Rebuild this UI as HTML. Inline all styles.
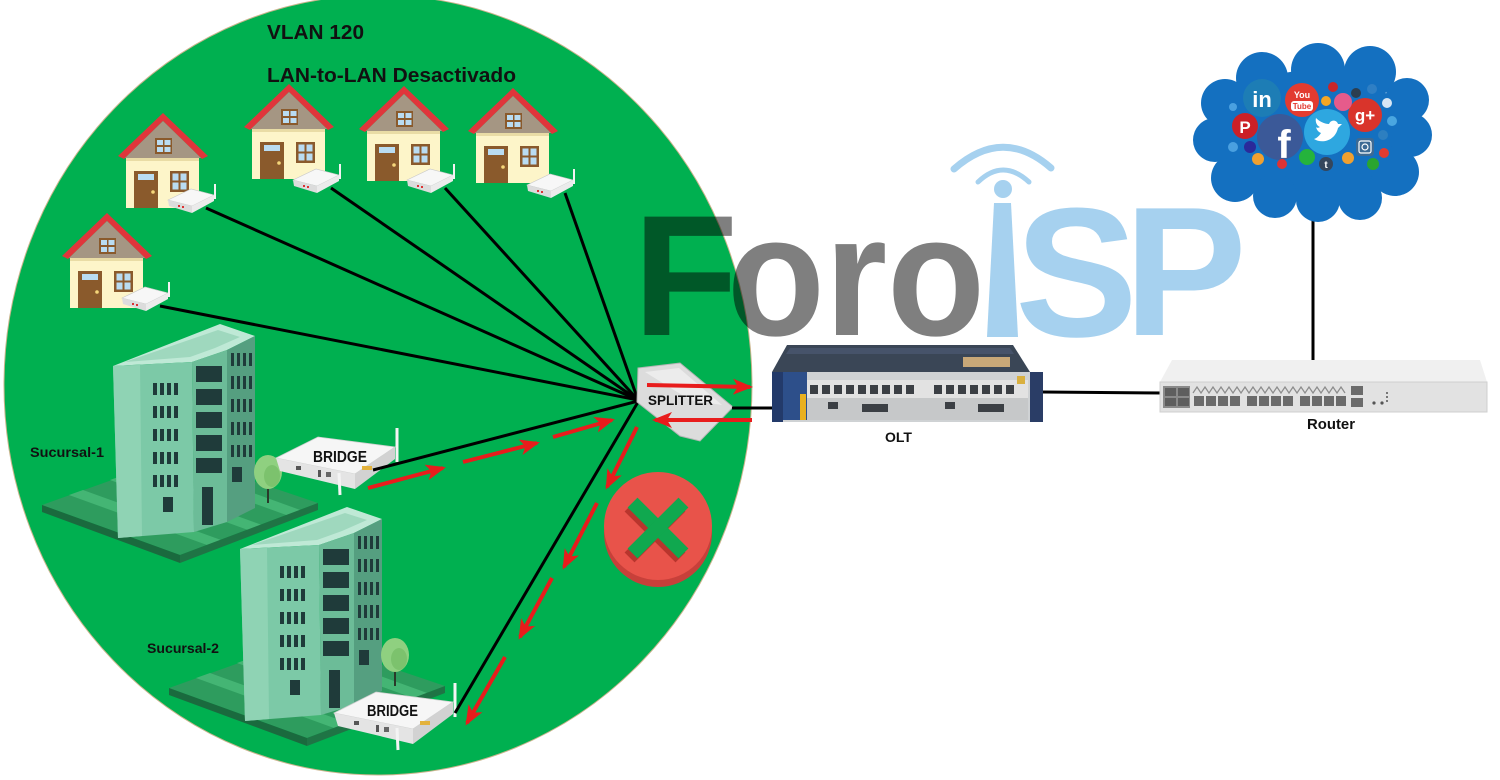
<!DOCTYPE html>
<html><head><meta charset="utf-8"><style>
html,body{margin:0;padding:0;background:#fff;}
svg{display:block;}
text{font-family:"Liberation Sans",Arial,sans-serif;font-weight:bold;}
</style></head><body>
<svg width="1500" height="780" viewBox="0 0 1500 780" xmlns="http://www.w3.org/2000/svg">
<defs>
<marker id="ah" markerUnits="userSpaceOnUse" markerWidth="20" markerHeight="16" viewBox="0 0 20 16" refX="17" refY="8" orient="auto">
<path d="M0,0 L20,8 L0,16 L5,8 z" fill="#e81c1c"/>
</marker>
<pattern id="wl" x="153" y="383" width="7" height="23" patternUnits="userSpaceOnUse"><rect x="0" y="0" width="4" height="12" fill="#1f3b3a"/></pattern>
<pattern id="wr" x="231" y="353" width="6" height="23" patternUnits="userSpaceOnUse"><rect x="0" y="0" width="3" height="13" fill="#1f3b3a"/></pattern>

<g id="house">
<polygon points="0,-1 45,42 39,45 0,7 -39,45 -45,42" fill="#e0353b"/>
<polygon points="0,7 -38,44 38,44" fill="#a59683"/>
<rect x="-37" y="44" width="73" height="50" fill="#fdf5c9"/>
<rect x="-37" y="44" width="73" height="3" fill="#e9dca5"/>
<rect x="-29" y="57" width="24" height="37" fill="#8a5a2c"/>
<rect x="-25" y="60" width="16" height="6" fill="#b9dcf2"/>
<circle cx="-10" cy="78" r="1.8" fill="#f5d67a"/>
<rect x="7" y="57" width="19" height="21" fill="#8a5a2c"/>
<rect x="9.5" y="59.5" width="6" height="7" fill="#b9dcf2"/>
<rect x="17.5" y="59.5" width="6" height="7" fill="#b9dcf2"/>
<rect x="9.5" y="68.5" width="6" height="7" fill="#b9dcf2"/>
<rect x="17.5" y="68.5" width="6" height="7" fill="#b9dcf2"/>
<rect x="-8" y="24" width="17" height="16" fill="#8a5a2c"/>
<rect x="-6" y="26" width="6" height="5" fill="#b9dcf2"/>
<rect x="1.5" y="26" width="6" height="5" fill="#b9dcf2"/>
<rect x="-6" y="33" width="6" height="5" fill="#b9dcf2"/>
<rect x="1.5" y="33" width="6" height="5" fill="#b9dcf2"/>
</g>

<g id="ont">
<polygon points="-38,-8 -15,-19 8,-13 -14,-2" fill="#f7f7f7" stroke="#c8c8c8" stroke-width="0.6"/>
<polygon points="-38,-8 -14,-2 -14,5 -37,-2" fill="#dcdcdc"/>
<polygon points="-14,-2 8,-13 8,-7 -14,5" fill="#ebebeb"/>
<line x1="9" y1="-24" x2="9" y2="-9" stroke="#f2f2f2" stroke-width="2"/>
<rect x="-28" y="-3" width="2" height="2" fill="#d33"/>
<rect x="-24" y="-2" width="2" height="2" fill="#d33"/>
</g>

<g id="bld">
<polygon points="42,505 179,456 318,503 180,555" fill="#2e9c5e"/>
<polygon points="69,495 207,545 221,540 83,490" fill="#44b574"/>
<polygon points="110,480 248,530 262,525 124,475" fill="#44b574"/>
<polygon points="151,466 289,516 303,511 165,461" fill="#44b574"/>
<polygon points="42,505 180,555 180,563 42,512" fill="#1a6a3e"/>
<polygon points="180,555 318,503 318,510 180,563" fill="#1f7445"/>
<polygon points="113,366 220,324 255,336 227,350 192,362" fill="#bfe9d6"/>
<polygon points="125,362 218,330 240,337 215,348 190,357" fill="#9fd8be"/>
<polygon points="113,366 192,362 194,532 118,538" fill="#7cc9a7"/>
<polygon points="113,366 140,365 142,536 118,538" fill="#8fd3b4"/>
<polygon points="192,362 227,350 227,522 194,532" fill="#6cbc98"/>
<polygon points="227,350 255,336 255,508 227,522" fill="#559f80"/>
<rect x="153" y="383" width="25" height="104" fill="url(#wl)"/>
<rect x="231" y="353" width="23" height="104" fill="url(#wr)"/>
<rect x="196" y="366" width="26" height="16" fill="#1f3b3a"/>
<rect x="196" y="389" width="26" height="16" fill="#1f3b3a"/>
<rect x="196" y="412" width="26" height="16" fill="#1f3b3a"/>
<rect x="196" y="435" width="26" height="16" fill="#1f3b3a"/>
<rect x="196" y="458" width="26" height="15" fill="#1f3b3a"/>
<rect x="163" y="497" width="10" height="15" fill="#1f3b3a"/>
<rect x="202" y="487" width="11" height="38" fill="#1f3b3a"/>
<rect x="232" y="467" width="10" height="15" fill="#1f3b3a"/>
<line x1="268" y1="480" x2="268" y2="503" stroke="#2a3a2a" stroke-width="2"/>
<ellipse cx="268" cy="472" rx="14" ry="17" fill="#8fd080"/>
<ellipse cx="272" cy="476" rx="8" ry="11" fill="#7cc26d"/>
</g>

<g id="brg">
<polygon points="276,458 318,437 395,447 355,474" fill="#f6f6f6" stroke="#d0d0d0" stroke-width="0.8"/>
<polygon points="276,458 355,474 355,489 280,471" fill="#e4e4e4"/>
<polygon points="355,474 395,447 395,459 355,489" fill="#d2d2d2"/>
<rect x="296" y="466" width="5" height="4" fill="#555"/>
<rect x="318" y="470" width="3" height="7" fill="#555"/>
<rect x="326" y="472" width="5" height="5" fill="#666"/>
<rect x="362" y="466" width="10" height="4" fill="#e3b23c"/>
<line x1="397" y1="428" x2="397" y2="462" stroke="#f4f4f4" stroke-width="3"/>
<line x1="339" y1="473" x2="340" y2="495" stroke="#f4f4f4" stroke-width="3"/>
</g>
</defs>

<rect width="1500" height="780" fill="#fff"/>

<!-- green ellipse -->
<ellipse cx="378" cy="385" rx="374" ry="390" fill="#00b050" stroke="#c9b48c" stroke-width="1"/>

<!-- Logo -->
<g style="mix-blend-mode:multiply">
<text x="633" y="335" font-size="172" fill="#7f7f7f">F</text>
<text x="727" y="335" font-size="172" fill="#7f7f7f" textLength="258" lengthAdjust="spacingAndGlyphs">oro</text>
</g>
<polygon points="987,337 1018,337 1011,203 994,203" fill="#a6d1ef"/>
<circle cx="1003" cy="189" r="9" fill="#a6d1ef"/>
<path d="M978,182 Q1003,158 1029,182" fill="none" stroke="#a6d1ef" stroke-width="5" stroke-linecap="round"/>
<path d="M954,169 Q1003,126 1051,168" fill="none" stroke="#a6d1ef" stroke-width="7" stroke-linecap="round"/>
<text x="1015" y="336" font-size="184" fill="#a6d1ef">S</text>
<text x="1124" y="335" font-size="184" fill="#a6d1ef">P</text>

<!-- Texts top -->
<text x="267" y="39" font-size="20" fill="#111" textLength="97" lengthAdjust="spacingAndGlyphs">VLAN 120</text>
<text x="267" y="82" font-size="20" fill="#111" textLength="249" lengthAdjust="spacingAndGlyphs">LAN-to-LAN Desactivado</text>

<!-- houses -->
<use href="#house" transform="translate(107,214)"/>
<use href="#house" transform="translate(163,114)"/>
<use href="#house" transform="translate(289,85)"/>
<use href="#house" transform="translate(404,87)"/>
<use href="#house" transform="translate(513,89)"/>

<!-- lines from houses -->
<g stroke="#000" stroke-width="3" fill="none">
<line x1="160" y1="306" x2="638" y2="400"/>
<line x1="206" y1="208" x2="638" y2="400"/>
<line x1="331" y1="188" x2="638" y2="400"/>
<line x1="445" y1="188" x2="638" y2="400"/>
<line x1="565" y1="193" x2="638" y2="400"/>
</g>
<use href="#ont" transform="translate(160,306)"/>
<use href="#ont" transform="translate(206,208)"/>
<use href="#ont" transform="translate(331,188)"/>
<use href="#ont" transform="translate(445,188)"/>
<use href="#ont" transform="translate(565,193)"/>

<!-- buildings -->
<use href="#bld"/>
<use href="#bld" transform="translate(127,183)"/>

<!-- bridges -->
<use href="#brg"/>
<use href="#brg" transform="translate(58,255)"/>
<text x="313" y="462" font-size="16" fill="#111" textLength="54" lengthAdjust="spacingAndGlyphs">BRIDGE</text>
<text x="367" y="716" font-size="16" fill="#111" textLength="51" lengthAdjust="spacingAndGlyphs">BRIDGE</text>
<g stroke="#000" stroke-width="3">
<line x1="373" y1="470" x2="638" y2="401"/>
<line x1="455" y1="713" x2="638" y2="402"/>
</g>

<text x="30" y="457" font-size="14" fill="#111" textLength="74" lengthAdjust="spacingAndGlyphs">Sucursal-1</text>
<text x="147" y="653" font-size="14" fill="#111" textLength="72" lengthAdjust="spacingAndGlyphs">Sucursal-2</text>

<!-- splitter -->
<polygon points="638,368 680,363 733,407 700,441 680,436 637,402" fill="#dcdcdc" stroke="#b5b5b5" stroke-width="1"/>
<polygon points="645,372 679,368 722,405 690,400" fill="#ececec"/>
<line x1="732" y1="408" x2="776" y2="408" stroke="#000" stroke-width="3"/>
<text x="648" y="405" font-size="14" fill="#111" textLength="65" lengthAdjust="spacingAndGlyphs">SPLITTER</text>

<!-- red arrows -->
<g stroke="#e81c1c" stroke-width="4" marker-end="url(#ah)">
<line x1="368" y1="488" x2="443" y2="468"/>
<line x1="463" y1="462" x2="537" y2="443"/>
<line x1="553" y1="437" x2="612" y2="420"/>
<line x1="647" y1="385" x2="750" y2="387"/>
<line x1="752" y1="420" x2="655" y2="420"/>
<line x1="637" y1="427" x2="607" y2="487"/>
<line x1="597" y1="503" x2="564" y2="567"/>
<line x1="552" y1="578" x2="520" y2="637"/>
<line x1="505" y1="657" x2="467" y2="723"/>
</g>

<!-- red X -->
<circle cx="658" cy="533" r="54" fill="#c7403a"/>
<circle cx="658" cy="526" r="54" fill="#e8534a"/>
<g transform="translate(655,532) rotate(45)" fill="#b8352d">
<rect x="-36" y="-7" width="72" height="14"/>
<rect x="-7" y="-36" width="14" height="72"/>
</g>
<g transform="translate(658,528) rotate(45)" fill="#10a84f">
<rect x="-36" y="-7" width="72" height="14"/>
<rect x="-7" y="-36" width="14" height="72"/>
</g>

<!-- OLT -->
<polygon points="787,345 1013,345 1030,372 772,372" fill="#3a4656"/>
<polygon points="790,348 1010,348 1014,354 786,354" fill="#46536a"/>
<rect x="963" y="357" width="47" height="10" fill="#c8a878"/>
<rect x="772" y="372" width="271" height="50" fill="#cfd2d4"/>
<rect x="772" y="372" width="11" height="50" fill="#233a6a"/>
<rect x="1030" y="372" width="13" height="50" fill="#2a3d66"/>
<rect x="783" y="372" width="24" height="48" fill="#2d4f8a"/>
<rect x="800" y="394" width="6" height="26" fill="#e8b020"/>
<rect x="807" y="380" width="221" height="18" fill="#e2e2e2"/>
<rect x="807" y="398" width="221" height="22" fill="#c6c8c9"/>
<g fill="#3b3f44">
<rect x="810" y="385" width="8" height="9"/><rect x="822" y="385" width="8" height="9"/><rect x="834" y="385" width="8" height="9"/><rect x="846" y="385" width="8" height="9"/><rect x="858" y="385" width="8" height="9"/><rect x="870" y="385" width="8" height="9"/><rect x="882" y="385" width="8" height="9"/><rect x="894" y="385" width="8" height="9"/><rect x="906" y="385" width="8" height="9"/>
<rect x="934" y="385" width="8" height="9"/><rect x="946" y="385" width="8" height="9"/><rect x="958" y="385" width="8" height="9"/><rect x="970" y="385" width="8" height="9"/><rect x="982" y="385" width="8" height="9"/><rect x="994" y="385" width="8" height="9"/><rect x="1006" y="385" width="8" height="9"/>
<rect x="828" y="402" width="10" height="7"/><rect x="862" y="404" width="26" height="8"/>
<rect x="945" y="402" width="10" height="7"/><rect x="978" y="404" width="26" height="8"/>
</g>
<rect x="1017" y="376" width="8" height="8" fill="#d9b040"/>
<line x1="1043" y1="392" x2="1163" y2="393" stroke="#000" stroke-width="3"/>
<text x="885" y="442" font-size="14" fill="#111" textLength="27" lengthAdjust="spacingAndGlyphs">OLT</text>

<!-- Router -->
<line x1="1313" y1="218" x2="1313" y2="362" stroke="#000" stroke-width="3"/>
<polygon points="1172,360 1480,360 1487,382 1160,382" fill="#f0f0f0"/>
<rect x="1160" y="382" width="327" height="30" fill="#e2e2e2" stroke="#cfcfcf" stroke-width="1"/>
<rect x="1163" y="386" width="27" height="22" fill="#8a8a8a"/>
<g fill="#5e5e5e">
<rect x="1165" y="388" width="11" height="8"/><rect x="1178" y="388" width="11" height="8"/>
<rect x="1165" y="398" width="11" height="8"/><rect x="1178" y="398" width="11" height="8"/>
</g>
<polyline points="1193,393 1197,387 1201,393 1205,387 1209,393 1213,387 1217,393 1221,387 1225,393 1229,387 1233,393 1237,387 1241,393 1245,387 1249,393 1253,387 1257,393 1261,387 1265,393 1269,387 1273,393 1277,387 1281,393 1285,387 1289,393 1293,387 1297,393 1301,387 1305,393 1309,387 1313,393 1317,387 1321,393 1325,387 1329,393 1333,387 1337,393 1341,387 1345,393" fill="none" stroke="#8c8c8c" stroke-width="1.2"/>
<g fill="#6b6b6b">
<rect x="1194" y="396" width="10" height="10"/><rect x="1206" y="396" width="10" height="10"/><rect x="1218" y="396" width="10" height="10"/><rect x="1230" y="396" width="10" height="10"/>
<rect x="1247" y="396" width="10" height="10"/><rect x="1259" y="396" width="10" height="10"/><rect x="1271" y="396" width="10" height="10"/><rect x="1283" y="396" width="10" height="10"/>
<rect x="1300" y="396" width="10" height="10"/><rect x="1312" y="396" width="10" height="10"/><rect x="1324" y="396" width="10" height="10"/><rect x="1336" y="396" width="10" height="10"/>
<rect x="1351" y="386" width="12" height="9"/><rect x="1351" y="398" width="12" height="9"/>
</g>
<circle cx="1374" cy="403" r="1.6" fill="#555"/><circle cx="1382" cy="403" r="1.6" fill="#555"/>
<g fill="#777"><rect x="1386" y="392" width="2" height="2"/><rect x="1386" y="396" width="2" height="2"/><rect x="1386" y="400" width="2" height="2"/></g>
<text x="1307" y="429" font-size="15" fill="#111" textLength="48" lengthAdjust="spacingAndGlyphs">Router</text>

<!-- Cloud -->
<g fill="#1470c0">
<ellipse cx="1313" cy="135" rx="95" ry="65"/>
<circle cx="1262" cy="78" r="26"/>
<circle cx="1318" cy="70" r="27"/>
<circle cx="1370" cy="72" r="26"/>
<circle cx="1407" cy="100" r="22"/>
<circle cx="1410" cy="135" r="22"/>
<circle cx="1395" cy="172" r="24"/>
<circle cx="1360" cy="198" r="22"/>
<circle cx="1318" cy="200" r="22"/>
<circle cx="1275" cy="196" r="22"/>
<circle cx="1235" cy="178" r="24"/>
<circle cx="1215" cy="140" r="22"/>
<circle cx="1225" cy="103" r="24"/>
</g>
<circle cx="1262" cy="98" r="19" fill="#1d7db5"/>
<text x="1262" y="107" font-size="22" fill="#fff" text-anchor="middle">in</text>
<circle cx="1302" cy="100" r="17" fill="#e23b30"/>
<text x="1302" y="98" font-size="9" fill="#fff" text-anchor="middle">You</text>
<rect x="1291" y="101" width="22" height="10" rx="3" fill="#fff"/>
<text x="1302" y="109" font-size="8" fill="#e23b30" text-anchor="middle">Tube</text>
<circle cx="1245" cy="126" r="13" fill="#cb2027"/>
<text x="1245" y="133" font-size="17" fill="#fff" text-anchor="middle">P</text>
<circle cx="1280" cy="137" r="23" fill="#3b5998"/>
<text x="1284" y="158" font-size="40" fill="#fff" text-anchor="middle">f</text>
<circle cx="1327" cy="132" r="23" fill="#2ea7e0"/>
<path d="M1314,139 C1322,144 1335,141 1338,128 L1342,124 L1338,124 C1337,120 1331,119 1329,124 C1324,124 1319,121 1316,118 C1315,122 1317,126 1320,127 C1318,128 1317,128 1316,127 C1317,131 1319,132 1321,133 C1319,136 1317,138 1314,139 Z" fill="#fff"/>
<circle cx="1365" cy="115" r="17" fill="#d9342b"/>
<text x="1365" y="121" font-size="17" fill="#fff" text-anchor="middle">g+</text>
<rect x="1356" y="138" width="18" height="18" rx="3" fill="#3d6a94"/>
<rect x="1359" y="141" width="12" height="12" rx="2" fill="none" stroke="#fff" stroke-width="1.2"/>
<circle cx="1365" cy="147" r="3" fill="none" stroke="#fff" stroke-width="1.2"/>
<circle cx="1307" cy="157" r="8" fill="#25b33c"/>
<circle cx="1326" cy="164" r="7" fill="#35465c"/>
<text x="1326" y="168" font-size="10" fill="#fff" text-anchor="middle">t</text>
<circle cx="1343" cy="102" r="9" fill="#e65b8b"/>
<circle cx="1333" cy="87" r="5" fill="#c8262a"/>
<circle cx="1326" cy="101" r="5" fill="#f5a623"/>
<circle cx="1356" cy="93" r="5" fill="#2c3e50"/>
<circle cx="1372" cy="89" r="5" fill="#2f7fc4"/>
<circle cx="1387" cy="103" r="5" fill="#d7e6f4"/>
<circle cx="1392" cy="121" r="5" fill="#4aa6e0"/>
<circle cx="1383" cy="135" r="5" fill="#2d7fc0"/>
<circle cx="1384" cy="153" r="5" fill="#e23b30"/>
<circle cx="1373" cy="164" r="6" fill="#2aa52f"/>
<circle cx="1348" cy="158" r="6" fill="#f0a030"/>
<circle cx="1282" cy="164" r="5" fill="#d33"/>
<circle cx="1258" cy="159" r="6" fill="#f0a030"/>
<circle cx="1250" cy="147" r="6" fill="#2a2a9a"/>
<circle cx="1233" cy="147" r="5" fill="#4aa0e0"/>
<circle cx="1233" cy="107" r="4" fill="#4aa0e0"/>
</svg>
</body></html>
